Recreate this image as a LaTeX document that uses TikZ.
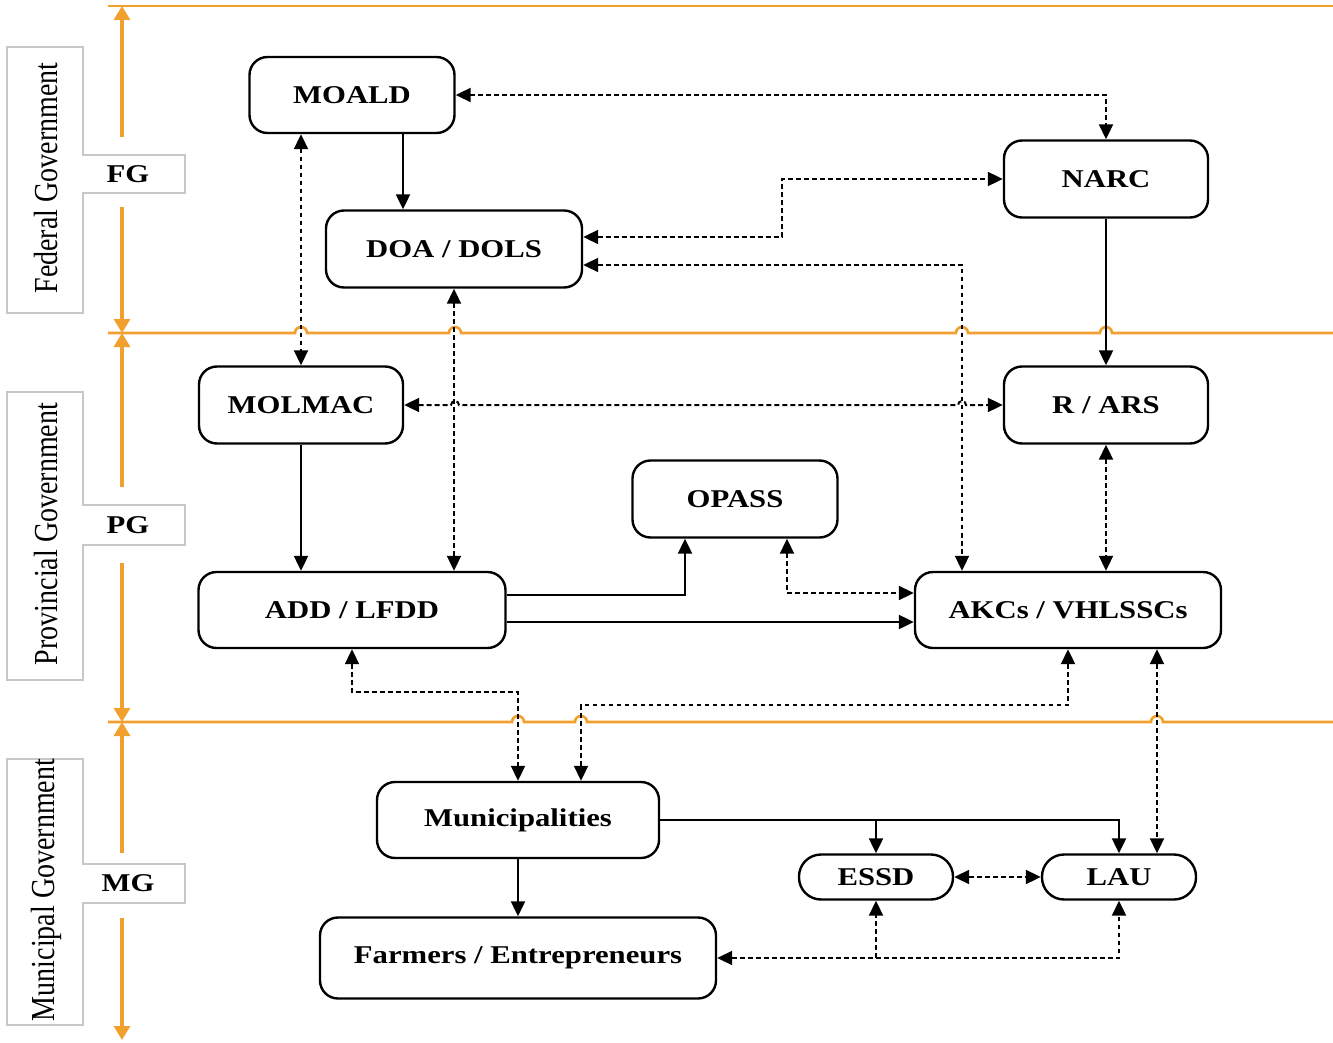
\documentclass[tikz,border=0pt]{standalone}
\usepackage{fontspec}
\usepackage{graphicx}
\setmainfont{Liberation Serif}
\newfontfamily\nfont[FakeStretch=1.2]{Liberation Serif}
\usetikzlibrary{arrows.meta,calc}
\definecolor{org}{RGB}{242,160,45}
\definecolor{lbl}{RGB}{200,200,200}
\begin{document}
\begin{tikzpicture}[x=0.5pt,y=-0.5pt,
  box/.style={draw, line width=1.2pt, rounded corners=9pt, inner sep=0pt, align=center,
    font=\nfont\bfseries\fontsize{12.8}{15}\selectfont},
  pill/.style={box, rounded corners=11pt},
  sarr/.style={line width=1.1pt, -{Triangle[length=7.5pt,width=7pt]}},
  darr/.style={line width=1pt, dash pattern=on 2.4pt off 1.6pt,
    {Triangle[length=7.5pt,width=7pt]}-{Triangle[length=7.5pt,width=7pt]}},
  dend/.style={line width=1pt, dash pattern=on 2.4pt off 1.6pt,
    -{Triangle[length=7.5pt,width=7pt]}},
  oline/.style={org, line width=1.3pt},
  oarr/.style={org, line width=1.6pt, -{Triangle[length=7pt,width=8pt]}},
  lblbox/.style={draw=lbl, fill=white, line width=0.6pt},
  vlab/.style={rotate=90, inner sep=0pt, font=\fontsize{14}{16}\selectfont},
  glab/.style={inner sep=0pt, font=\nfont\bfseries\fontsize{12.8}{15}\selectfont}
]
\useasboundingbox (0,0) rectangle (1333,1043);

% orange level lines
\draw[oline] (108,6) -- (1333,6);
\draw[oline] (108,333) -- (295,333) arc[start angle=180,end angle=360,radius=6]
  -- (449,333) arc[start angle=180,end angle=360,radius=6]
  -- (956,333) arc[start angle=180,end angle=360,radius=6]
  -- (1100,333) arc[start angle=180,end angle=360,radius=6] -- (1333,333);
\draw[oline] (108,722) -- (512,722) arc[start angle=180,end angle=360,radius=6]
  -- (575,722) arc[start angle=180,end angle=360,radius=6]
  -- (1151,722) arc[start angle=180,end angle=360,radius=6] -- (1333,722);

% orange level arrows
\draw[oarr] (122,137) -- (122,6);
\draw[oarr] (122,207) -- (122,333);
\draw[oarr] (122,487) -- (122,333);
\draw[oarr] (122,563) -- (122,722);
\draw[oarr] (122,853) -- (122,722);
\draw[oarr] (122,918) -- (122,1040);

% label boxes
\draw[lblbox] (7,47) -- (83,47) -- (83,155) -- (185,155) -- (185,193) -- (83,193) -- (83,313) -- (7,313) -- cycle;
\draw[lblbox] (7,392) -- (83,392) -- (83,505) -- (185,505) -- (185,545) -- (83,545) -- (83,680) -- (7,680) -- cycle;
\draw[lblbox] (7,759) -- (83,759) -- (83,864) -- (185,864) -- (185,903) -- (83,903) -- (83,1025) -- (7,1025) -- cycle;
\node[vlab] (fgv) at (46,178) {\scalebox{1}[1.2]{Federal Government}};
\node[vlab] (pgv) at (46,534) {\scalebox{1}[1.2]{Provincial Government}};
\node[vlab] (mgv) at (46,890) {\scalebox{1}[1.2]{Municipal Government}};
\node[glab] (fg) at (128,174) {FG};
\node[glab] (pg) at (128,525) {PG};
\node[glab] (mg) at (128,883) {MG};

% nodes
\node[box, minimum width=102.5pt, minimum height=38pt] (moald) at (352,95) {MOALD};
\node[box, minimum width=128pt, minimum height=38.5pt] (doa) at (454,249) {DOA / DOLS};
\node[box, minimum width=102pt, minimum height=38.5pt] (narc) at (1106,179) {NARC};
\node[box, minimum width=102pt, minimum height=38.5pt] (molmac) at (301,405) {MOLMAC};
\node[box, minimum width=102pt, minimum height=38.5pt] (rars) at (1106,405) {R / ARS};
\node[box, minimum width=102.5pt, minimum height=38.5pt] (opass) at (735,499) {OPASS};
\node[box, minimum width=153.5pt, minimum height=38pt] (add) at (352,610) {ADD / LFDD};
\node[box, minimum width=153pt, minimum height=38pt] (akcs) at (1068,610) {AKCs / VHLSSCs};
\node[box, minimum width=141pt, minimum height=38pt] (munic) at (518,820) {Municipalities};
\node[pill, minimum width=77pt, minimum height=22.5pt] (essd) at (876,877) {ESSD};
\node[pill, minimum width=77pt, minimum height=22.5pt] (lau) at (1119,877) {LAU};
\node[box, minimum width=198pt, minimum height=40.5pt] (farm) at (518,958) {Farmers / Entrepreneurs};

% solid connectors
\draw[sarr] (moald.south -| 403,0) -- (doa.north -| 403,0);
\draw[sarr] (narc.south) -- (rars.north);
\draw[sarr] (molmac.south) -- (add.north -| molmac.south);
\draw[sarr] (add.east |- 0,595) -- (685,595) -- (opass.south -| 685,0);
\draw[sarr] (add.east |- 0,622) -- (akcs.west |- 0,622);
\draw[sarr] (munic.east) -| (lau.north);
\draw[sarr] (essd.north |- munic.east) -- (essd.north);
\draw[sarr] (munic.south) -- (farm.north);

% dashed connectors
\draw[darr] (moald.east) -| (narc.north);
\draw[darr] (moald.south -| 301,0) -- (molmac.north);
\draw[darr] (doa.east |- 0,237) -- (782,237) -- (782,179) -- (narc.west);
\draw[darr] (doa.east |- 0,265) -- (962,265) -- (akcs.north -| 962,0);
\draw[darr] (doa.south) -- (add.north -| doa.south);
\draw[darr] (molmac.east) -- (451,405) arc[start angle=180,end angle=360,radius=4]
  -- (958,405) arc[start angle=180,end angle=360,radius=4] -- (rars.west);
\draw[darr] (rars.south) -- (akcs.north -| rars.south);
\draw[darr] (opass.south -| 787,0) -- (787,593) -- (akcs.west |- 0,593);
\draw[darr] (add.south) -- (352,692) -- (518,692) -- (munic.north);
\draw[darr] (akcs.south) -- (1068,705) -- (581,705) -- (munic.north -| 581,0);
\draw[darr] (akcs.south -| 1157,0) -- (lau.north -| 1157,0);
\draw[darr] (essd.east) -- (lau.west);
\draw[darr] (farm.east) -| (lau.south);
\draw[dend] (essd.south |- farm.east) -- (essd.south);
\end{tikzpicture}
\end{document}
